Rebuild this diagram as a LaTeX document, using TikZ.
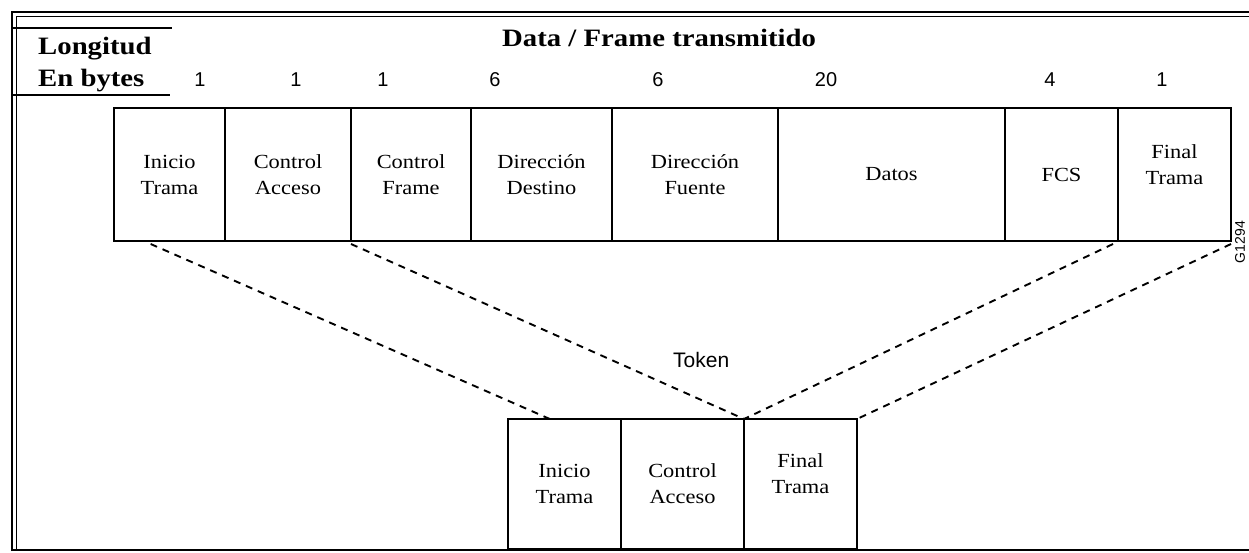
\documentclass[tikz,border=0pt]{standalone}
\usepackage{fontspec}
\setmainfont{Liberation Serif}
\newfontfamily\hdrfont[FakeStretch=1.15]{Liberation Serif}
\newfontfamily\boxfontfam[FakeStretch=1.12]{Liberation Serif}
\newfontfamily\numfontfam{Liberation Sans}
\usetikzlibrary{calc}
\tikzset{
  fbox/.style={draw, line width=1.2pt, inner sep=0pt, outer sep=0pt, align=center,
    font=\boxfontfam\fontsize{20}{26}\selectfont},
  topbox/.style={fbox, minimum height=133pt},
  botbox/.style={fbox, minimum height=130pt},
  raised/.style={text depth=20pt},
  hdr/.style={font=\hdrfont\bfseries\fontsize{25}{30}\selectfont, inner sep=0pt},
  num/.style={font=\numfontfam\fontsize{20}{23}\selectfont, anchor=base, inner sep=0pt},
  link/.style={dashed, dash pattern=on 7pt off 6pt, line width=1.9pt},
  frameline/.style={line width=1.1pt}
}
\begin{document}
\begin{tikzpicture}[x=1pt,y=-1pt]
\useasboundingbox (0,0) rectangle (1249,553);
% outer frame
\draw[frameline] (12,551) -- (12,12) -- (1249,12);
\draw[line width=0.8pt] (16,549) -- (16,16) -- (1249,16);
\draw[line width=2pt] (12,550) -- (1249,550);
% header rules
\draw[line width=1.1pt] (12,28) -- (172,28);
\draw[line width=1.1pt] (12,95) -- (170,95);
% header texts
\node[hdr, anchor=base west] (lon) at (38,55) {Longitud};
\node[hdr, anchor=base west] (enb) at (38,87) {En bytes};
\node[hdr, anchor=base west] (dft) at (502,47) {Data / Frame transmitido};
% byte counts
\node[num] (n1) at (200,87) {1};
\node[num] (n2) at (296,87) {1};
\node[num] (n3) at (383,87) {1};
\node[num] (n4) at (495,87) {6};
\node[num] (n5) at (658,87) {6};
\node[num] (n6) at (826,87) {20};
\node[num] (n7) at (1050,87) {4};
\node[num] (n8) at (1162,87) {1};
% top frame boxes
\node[topbox, minimum width=111pt] (a1) at (169.5,174.5) {Inicio\\Trama};
\node[topbox, minimum width=126pt] (a2) at (288,174.5) {Control\\Acceso};
\node[topbox, minimum width=120pt] (a3) at (411,174.5) {Control\\Frame};
\node[topbox, minimum width=141pt] (a4) at (541.5,174.5) {Dirección\\Destino};
\node[topbox, minimum width=166pt] (a5) at (695,174.5) {Dirección\\Fuente};
\node[topbox, minimum width=227pt] (a6) at (891.5,174.5) {Datos};
\node[topbox, minimum width=113pt] (a7) at (1061.5,174.5) {FCS};
\node[topbox, minimum width=113pt, raised] (a8) at (1174.5,174.5) {Final\\Trama};
\draw[line width=2.2pt] (a1.north west) -- (a8.north east);
\draw[line width=2.2pt] (a1.south west) -- (a8.south east);
% figure id
\node[font=\numfontfam\fontsize{14}{16}\selectfont, rotate=90, inner sep=0pt] (gid) at (1240,242) {G1294};
% token boxes
\node[botbox, minimum width=113pt] (b1) at (564.5,484) {Inicio\\Trama};
\node[botbox, minimum width=123pt] (b2) at (682.5,484) {Control\\Acceso};
\node[botbox, minimum width=113pt, raised] (b3) at (800.5,484) {Final\\Trama};
\node[font=\numfontfam\fontsize{21}{24}\selectfont, anchor=base west, inner sep=0pt] (tok) at (673,367) {Token};
% dashed connectors
\draw[link] ($(a1.south west)!0.33!(a1.south east)+(0,3)$) -- ($(b1.north west)!0.37!(b1.north east)$);
\draw[link] ($(a2.south east)+(0,3)$) -- (b2.north east);
\draw[link] ($(a7.south east)+(-5,3)$) -- (b2.north east);
\draw[link] ($(a8.south east)+(0,3)$) -- (b3.north east);
\end{tikzpicture}
\end{document}
